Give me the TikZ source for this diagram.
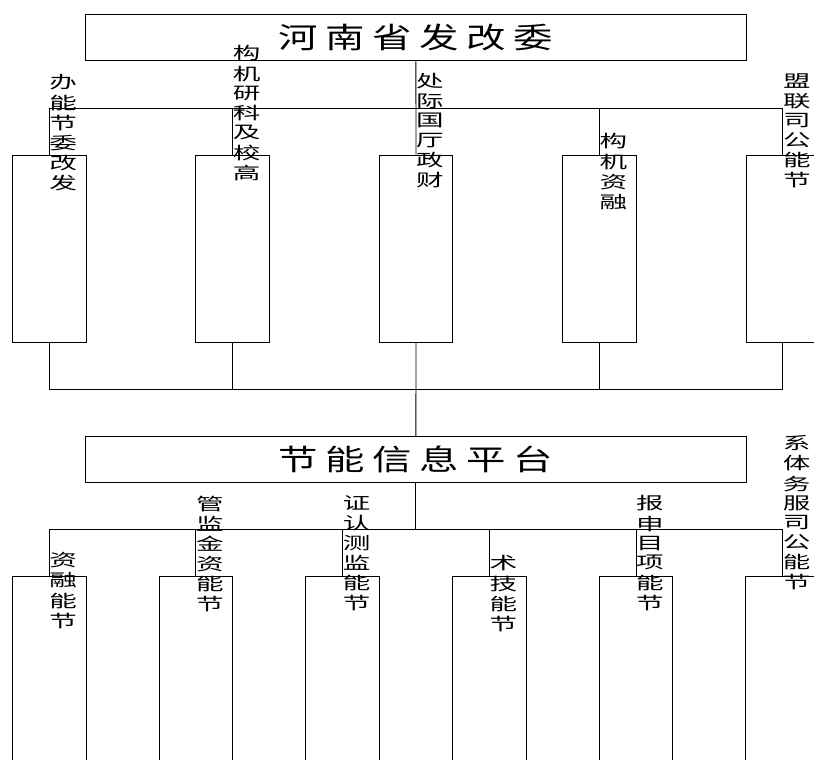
\documentclass[tikz,border=0pt]{standalone}
\usepackage{fontspec}
\usepackage{graphicx}
\newfontfamily\cjk{Noto Sans CJK SC}
\usetikzlibrary{positioning}

% stacked characters, widened like the original
\newcommand{\vstack}[1]{\scalebox{1.62}[1]{\begin{tabular}{@{}c@{}}#1\end{tabular}}}
\newcommand{\widetitle}[1]{\scalebox{1.36}[1]{#1}}

\tikzset{
  titlebox/.style={draw, line width=0.9pt, inner sep=0pt,
    minimum width=660.6pt, minimum height=46.5pt,
    font=\cjk\fontsize{29}{31}\selectfont},
  ubox/.style={draw, line width=0.9pt, inner sep=0pt,
    minimum width=73.7pt, minimum height=187pt},
  lbox/.style={draw, line width=0.9pt, inner sep=0pt,
    minimum width=73.7pt, minimum height=200pt},
  vlabel/.style={anchor=north west, inner sep=0pt,
    font=\cjk\fontsize{17}{19.4}\selectfont},
  link/.style={line width=0.9pt}
}

\begin{document}
\begin{tikzpicture}[x=1pt,y=-1pt]
\useasboundingbox (0,0) rectangle (814,760);
\fill[white] (0,0) rectangle (814,760);

% top office
\node[titlebox] (fgw) at (415.9,37.7)
  {\widetitle{河\hspace{5.5pt}南\hspace{5.5pt}省\hspace{5.5pt}发\hspace{5.5pt}改\hspace{5.5pt}委}};

% five upper units
\foreach \i/\x in {1/49.2,2/232.6,3/416,4/599.4,5/782.8} {
    \node[ubox] (u\i) at (\x,248.5) {};
}

% platform
\node[titlebox, minimum height=46pt] (ptf) at (415.9,459.2)
  {\widetitle{节\hspace{5.5pt}能\hspace{5.5pt}信\hspace{5.5pt}息\hspace{5.5pt}平\hspace{5.5pt}台}};

% six lower units
\foreach \i/\x in {1/49.2,2/195.9,3/342.6,4/489.3,5/636,6/782.7} {
    \node[lbox] (l\i) at (\x,676) {};
}

% upper buses
\coordinate (busA) at (0,108.3);
\coordinate (busB) at (0,389);
\draw[link] (fgw.south) -- (u3.north);
\draw[link] (u1.north) |- (busA -| u5.north) -- (u5.north);
\foreach \i in {2,4} {
    \draw[link] (u\i.north) -- (u\i.north |- busA);
}
\draw[link] (u1.south) |- (busB -| u5.south) -- (u5.south);
\foreach \i in {2,4} {
    \draw[link] (u\i.south) -- (u\i.south |- busB);
}
\draw[link] (u3.south) -- (ptf.north);

% lower bus
\coordinate (busC) at (0,529.3);
\draw[link] (ptf.south) -- (ptf.south |- busC);
\draw[link] (l1.north) |- (busC -| l6.north) -- (l6.north);
\foreach \i in {2,...,5} {
    \draw[link] (l\i.north) -- (l\i.north |- busC);
}

% labels of upper units
\node[vlabel] (t1) at (49.2,74.5) {\vstack{办\\能\\节\\委\\改\\发}};
\node[vlabel] (t2) at (232.6,45.5) {\vstack{构\\机\\研\\科\\及\\校\\高}};
\node[vlabel] (t3) at (416,73.5) {\vstack{处\\际\\国\\厅\\政\\财}};
\node[vlabel] (t4) at (599.4,133.5) {\vstack{构\\机\\资\\融}};
\node[vlabel] (t5) at (782.8,73.5) {\vstack{盟\\联\\司\\公\\能\\节}};

% labels of lower units
\node[vlabel] (s1) at (49.2,552.5) {\vstack{资\\融\\能\\节}};
\node[vlabel] (s2) at (195.9,495.5) {\vstack{管\\监\\金\\资\\能\\节}};
\node[vlabel] (s3) at (342.6,495.5) {\vstack{证\\认\\测\\监\\能\\节}};
\node[vlabel] (s4) at (489.3,555.5) {\vstack{术\\技\\能\\节}};
\node[vlabel] (s5) at (636,495.5) {\vstack{报\\申\\目\\项\\能\\节}};
\node[vlabel] (s6) at (782.7,435.5) {\vstack{系\\体\\务\\服\\司\\公\\能\\节}};
\end{tikzpicture}
\end{document}
